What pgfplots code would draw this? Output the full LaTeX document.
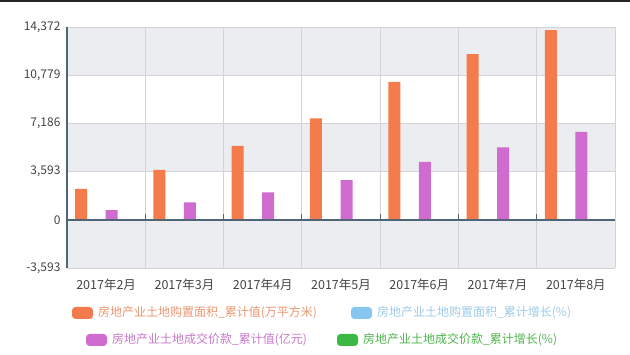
\documentclass[border=0pt]{standalone}
\usepackage{pgfplots}
\pgfplotsset{compat=1.18}
\usepackage{fontspec}
\setmainfont{Noto Sans CJK SC}
\definecolor{orangeC}{HTML}{F47B4B}
\definecolor{purpleC}{HTML}{D06BD0}
\definecolor{blueC}{HTML}{87C6F0}
\definecolor{greenC}{HTML}{3CB844}
\definecolor{orangeT}{HTML}{EA9772}
\definecolor{purpleT}{HTML}{C879C8}
\definecolor{blueT}{HTML}{9CCBEA}
\definecolor{greenT}{HTML}{4DB54D}
\definecolor{bandC}{HTML}{ECEDF1}
\definecolor{gridC}{HTML}{D2D4D8}
\definecolor{axisC}{HTML}{4F6575}
\definecolor{labC}{HTML}{444444}
\begin{document}
\begin{tikzpicture}[x=1pt,y=1pt]
\useasboundingbox (0,0) rectangle (630,355);
\fill[black!85] (0,352.5) rectangle (630,355);
\begin{axis}[
  at={(67pt,87pt)}, anchor=south west,
  scale only axis, width=548pt, height=241pt,
  xmin=0.5, xmax=7.5, ymin=-3593, ymax=14372,
  ybar, bar width=12pt,
  axis line style={draw=none},
  major tick length=0pt,
  scaled y ticks=false,
  xtick={1,2,3,4,5,6,7},
  xticklabels={2017年2月,2017年3月,2017年4月,2017年5月,2017年6月,2017年7月,2017年8月},
  ytick={-3593,0,3593,7186,10779,14372},
  yticklabels={-3{,}593,0,3{,}593,7{,}186,10{,}779,14{,}372},
  xticklabel style={font=\fontsize{12.5}{14}\selectfont, text=labC, yshift=-7pt},
  yticklabel style={font=\fontsize{12}{14}\selectfont, text=labC, xshift=-3pt},
  clip=false,
]
% background bands
\fill[bandC] (axis cs:0.5,10779) rectangle (axis cs:7.5,14372);
\fill[bandC] (axis cs:0.5,3593) rectangle (axis cs:7.5,7186);
\fill[bandC] (axis cs:0.5,-3593) rectangle (axis cs:7.5,0);
% grid
\foreach \yy in {-3593,3593,7186,10779,14372} {
  \edef\tmp{\noexpand\draw[gridC, line width=0.8pt] (axis cs:0.5,\yy) -- (axis cs:7.5,\yy);}\tmp
}
\foreach \xx in {1.5,2.5,3.5,4.5,5.5,6.5,7.5} {
  \edef\tmp{\noexpand\draw[gridC, line width=0.8pt] (axis cs:\xx,-3593) -- (axis cs:\xx,14372);}\tmp
}
\addplot[fill=orangeC, draw=none, bar shift=-25pt] coordinates {
  (1,2311) (2,3727) (3,5516) (4,7551) (5,10287) (6,12352) (7,14141)};
\addplot[fill=purpleC, draw=none, bar shift=5.5pt] coordinates {
  (1,723) (2,1290) (3,2035) (4,2960) (5,4323) (6,5390) (7,6560)};
% axis lines
\foreach \xx in {1.5,2.5,3.5,4.5,5.5,6.5} {
  \edef\tmp{\noexpand\draw[axisC, line width=1pt] (axis cs:\xx,0) -- (axis cs:\xx,450);}\tmp
}
\draw[axisC, line width=1.6pt] (axis cs:0.5,0) -- (axis cs:7.5,0);
\draw[axisC, line width=1.6pt] (axis cs:0.5,-3593) -- (axis cs:0.5,14372);
\end{axis}
% legend
\fill[orangeC, rounded corners=3.5pt] (72,36) rectangle (93,48);
\node[anchor=west, inner sep=0, text=orangeT, font=\fontsize{12}{14}\selectfont] at (98,42) {房地产业土地购置面积\_累计值(万平方米)};
\fill[blueC, rounded corners=3.5pt] (351,36) rectangle (372,48);
\node[anchor=west, inner sep=0, text=blueT, font=\fontsize{12}{14}\selectfont] at (377,42) {房地产业土地购置面积\_累计增长(\%)};
\fill[purpleC, rounded corners=3.5pt] (86,9) rectangle (107,21);
\node[anchor=west, inner sep=0, text=purpleT, font=\fontsize{12}{14}\selectfont] at (112,15) {房地产业土地成交价款\_累计值(亿元)};
\fill[greenC, rounded corners=3.5pt] (337,9) rectangle (358,21);
\node[anchor=west, inner sep=0, text=greenT, font=\fontsize{12}{14}\selectfont] at (363,15) {房地产业土地成交价款\_累计增长(\%)};
\end{tikzpicture}
\end{document}
